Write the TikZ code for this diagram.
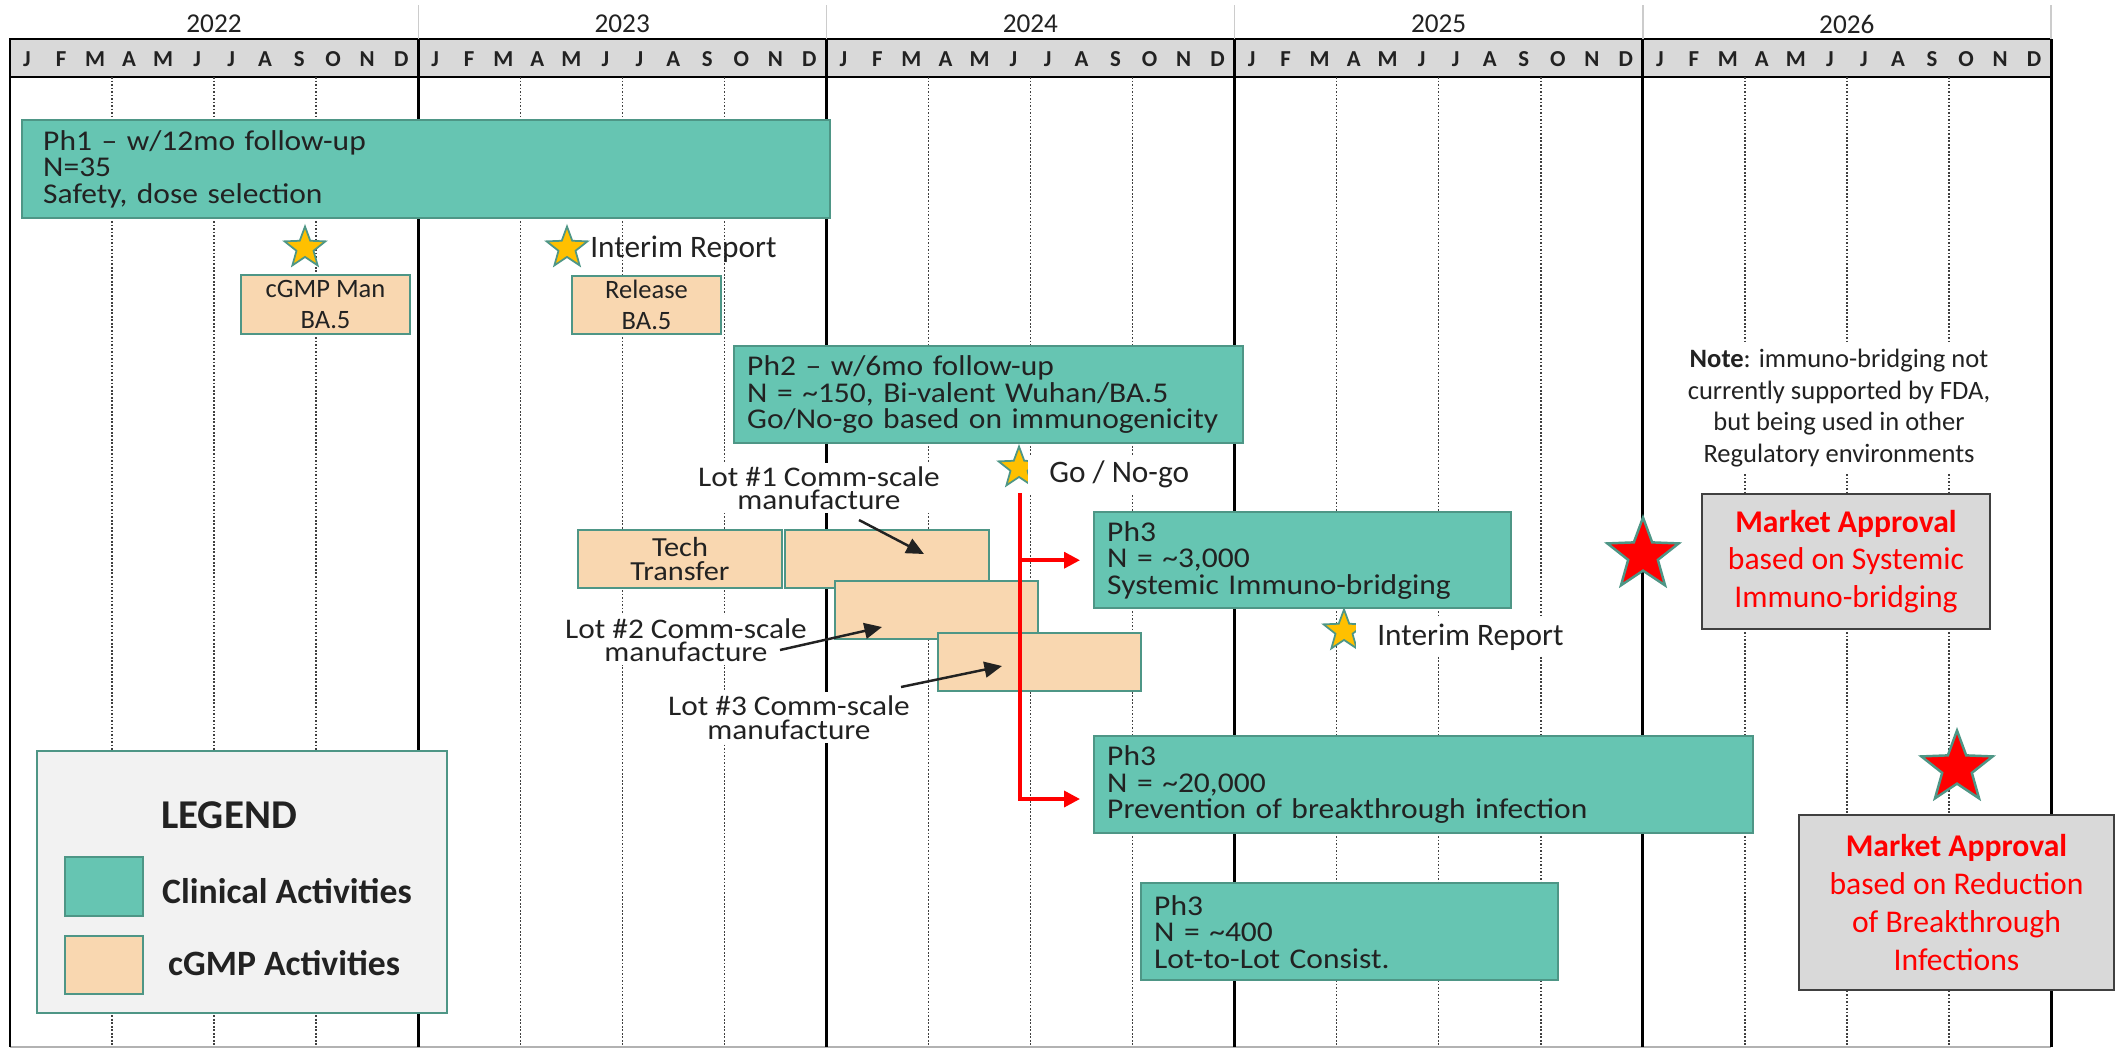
\documentclass[tikz,border=0pt]{standalone}
\usepackage{fontspec}
\setmainfont{Carlito}
\newfontfamily\widefont{Carlito}[FakeStretch=1.1]
\usepackage{tikz}
\usetikzlibrary{shapes.geometric, arrows.meta, positioning}
\definecolor{tealFill}{RGB}{102, 197, 178}
\definecolor{tealEdge}{RGB}{78, 150, 134}
\definecolor{peachFill}{RGB}{249, 215, 176}
\definecolor{goldStar}{RGB}{255, 192, 0}
\definecolor{barGray}{RGB}{217, 217, 217}
\definecolor{legendGray}{RGB}{242, 242, 242}
\definecolor{darkEdge}{RGB}{64, 64, 64}
\definecolor{inkGray}{RGB}{34, 34, 34}
\definecolor{redMark}{RGB}{255, 0, 0}

\begin{document}
\begin{tikzpicture}[x=0.02cm, y=-0.02cm,
  yearln/.style={line width=1.7pt, draw=black},
  qline/.style={line width=0.8pt, draw=black!75, dash pattern=on 1pt off 1pt},
  yrsep/.style={line width=0.8pt, draw=black!20},
  yr/.style={font=\fontsize{15.5}{17}\selectfont, text=inkGray, inner sep=1pt},
  mon/.style={font=\fontsize{13}{14}\selectfont\bfseries, text=inkGray, inner sep=1pt},
  clin/.style={rectangle, draw=tealEdge, fill=tealFill, line width=1.4pt,
    align=left, inner xsep=0.26cm, text=inkGray,
    font=\widefont\fontsize{16.3}{15.1}\selectfont},
  cgmp/.style={rectangle, draw=tealEdge, fill=peachFill, line width=1.4pt,
    align=center, inner sep=0pt, text=inkGray,
    font=\fontsize{15.1}{18}\selectfont},
  lotlab/.style={fill=white, align=center, inner sep=2pt, text=inkGray,
    font=\widefont\fontsize{16.2}{13.4}\selectfont},
  milestone/.style={fill=white, inner ysep=3pt, inner xsep=0.42cm, text=inkGray,
    font=\fontsize{17.8}{21}\selectfont},
  notetxt/.style={fill=white, align=center, inner sep=4pt, text=inkGray,
    font=\fontsize{15.1}{18.1}\selectfont},
  goldstar/.style={star, star points=5, star point ratio=2.4, minimum size=0.86cm,
    inner sep=0pt, fill=goldStar, draw=tealEdge, line width=1pt},
  redstar/.style={star, star points=5, star point ratio=2.4, minimum size=1.5cm,
    inner sep=0pt, fill=redMark, draw=tealEdge, line width=1.4pt},
  market/.style={rectangle, draw=darkEdge, fill=barGray, line width=1.4pt,
    align=center, text=redMark, font=\fontsize{18}{21.5}\selectfont},
  legtxt/.style={font=\fontsize{20.3}{24}\selectfont\bfseries, text=inkGray},
  blkarr/.style={-{Triangle[length=10pt, width=9pt]}, line width=1.4pt, draw=inkGray},
  redarr/.style={-{Triangle[length=9pt, width=9pt]}, line width=2pt,
    draw=redMark, shorten >=0.26cm},
]
\useasboundingbox (0,0) rectangle (2116,1049);

\draw[line width=1.5pt, fill=barGray] (10,39) rectangle (2051,77);
\foreach \k in {1,...,5}
  \draw[yrsep] ({10+408.2*\k},5) -- ({10+408.2*\k},39);
\foreach [count=\i from 0] \y in {2022,...,2026}
  \node[yr] (y\y) at ({214+408.2*\i},24) {\y};
\foreach \k in {0,...,4}
  \foreach [count=\i from 0] \m in {J,F,M,A,M,J,J,A,S,O,N,D}
    \node[mon] (m\k-\i) at ({10+408.2*\k+34.02*(\i+0.5)},59) {\m};
\foreach \k in {0,...,4}
  \foreach \q in {3,6,9}
    \draw[qline] ({10+408.2*\k+34.02*\q},77) -- ({10+408.2*\k+34.02*\q},1047);
\draw[draw=black!30, line width=1pt] (10,1047) -- (2051,1047);
\foreach \k in {0,...,5}
  \draw[yearln] ({10+408.2*\k},39) -- ({10+408.2*\k},1047);

\node[clin, anchor=north west, inner xsep=0.42cm, text width=15.32cm,
  minimum height=1.96cm] (ph1) at (21,119)
  {Ph1 \textendash{} w/12mo follow-up\\N=35\\Safety, dose selection};
\node[clin, anchor=north west, text width=9.66cm, minimum height=1.94cm] (ph2) at (733,345)
  {Ph2 \textendash{} w/6mo follow-up\\N = \textasciitilde150, Bi-valent Wuhan/BA.5\\Go/No-go based on immunogenicity};
\node[clin, anchor=north west, text width=7.82cm, minimum height=1.92cm] (ph3a) at (1093,511)
  {Ph3\\N = \textasciitilde3,000\\Systemic Immuno-bridging};
\node[clin, anchor=north west, text width=12.66cm, minimum height=1.94cm] (ph3b) at (1093,735)
  {Ph3\\N = \textasciitilde20,000\\Prevention of breakthrough infection};
\node[clin, anchor=north west, text width=7.82cm, minimum height=1.94cm] (ph3c) at (1140,882)
  {Ph3\\N = \textasciitilde400\\Lot-to-Lot Consist.};

\node[cgmp, minimum width=3.38cm, minimum height=1.18cm] (cgmpman) at (325.5,304.5)
  {cGMP Man\\BA.5};
\node[cgmp, minimum width=2.98cm, minimum height=1.16cm] (release) at (646.5,305)
  {Release\\BA.5};
\node[cgmp, minimum width=4.08cm, minimum height=1.16cm,
  font=\widefont\fontsize{15.7}{13.6}\selectfont] (tech) at (680,559) {Tech\\Transfer};
\node[cgmp, minimum width=4.08cm, minimum height=1.16cm] (lot1) at (887,559) {};
\node[cgmp, minimum width=4.06cm, minimum height=1.16cm] (lot2) at (936.5,610) {};
\node[cgmp, minimum width=4.06cm, minimum height=1.16cm] (lot3) at (1039.5,662) {};

\node[goldstar] (s1) at (305,248) {};
\node[goldstar] (s2) at (567,248) {};
\node[goldstar] (s3) at (1019,468) {};
\node[goldstar] (s4) at (1344,631) {};
\node[milestone, fill=none, anchor=west] (interim1) at (569,249) {Interim Report};
\node[milestone, anchor=west] (gonogo) at (1028,474) {Go / No-go};
\node[milestone, anchor=west] (interim2) at (1356,637) {Interim Report};

\coordinate (gotop) at (1020,493);
\coordinate (gobot) at (1020,799);
\draw[redarr] (gotop) -- (gobot) -- (gobot -| ph3b.west);
\draw[redarr] (gotop |- ph3a.west) -- (ph3a.west);

\node[lotlab] (lot1lab) at (819,488) {Lot \#1 Comm-scale\\manufacture};
\node[lotlab] (lot2lab) at (686,640) {Lot \#2 Comm-scale\\manufacture};
\node[lotlab] (lot3lab) at (789,717.5) {Lot \#3 Comm-scale\\manufacture};
\draw[blkarr] ([shift={(40,32)}]lot1lab.center) -- ([shift={(37,-5)}]lot1.center);
\draw[blkarr] ([shift={(94,10)}]lot2lab.center) -- ([shift={(-54.5,17)}]lot2.center);
\draw[blkarr] ([shift={(112,-30.5)}]lot3lab.center) -- ([shift={(-37.5,4)}]lot3.center);

\node[notetxt] (note) at (1839,408)
  {\textbf{Note}: immuno-bridging not\\currently supported by FDA,\\but being used in other\\Regulatory environments};
\node[market, minimum width=5.76cm, minimum height=2.7cm] (mkt1) at (1846,561.5)
  {\textbf{Market Approval}\\based on Systemic\\Immuno-bridging};
\node[market, minimum width=6.3cm, minimum height=3.5cm] (mkt2) at (1956.5,902.5)
  {\textbf{Market Approval}\\based on Reduction\\of Breakthrough\\Infections};
\node[redstar] (rs1) at (1643,555) {};
\node[redstar] (rs2) at (1957,768) {};

\node[rectangle, draw=tealEdge, fill=legendGray, line width=1.4pt,
  minimum width=8.2cm, minimum height=5.24cm] (legend) at (242,882) {};
\node[font=\fontsize{23.3}{26}\selectfont\bfseries, text=inkGray] (legtitle) at (229,815) {LEGEND};
\node[cgmp, fill=tealFill, minimum width=1.56cm, minimum height=1.18cm] (legclin) at (104,886.5) {};
\node[cgmp, minimum width=1.56cm, minimum height=1.16cm] (legcgmp) at (104,965) {};
\node[legtxt, anchor=west] (legclintxt) at (156,891) {Clinical Activities};
\node[legtxt, anchor=west] (legcgmptxt) at (162,963) {cGMP Activities};
\end{tikzpicture}
\end{document}
